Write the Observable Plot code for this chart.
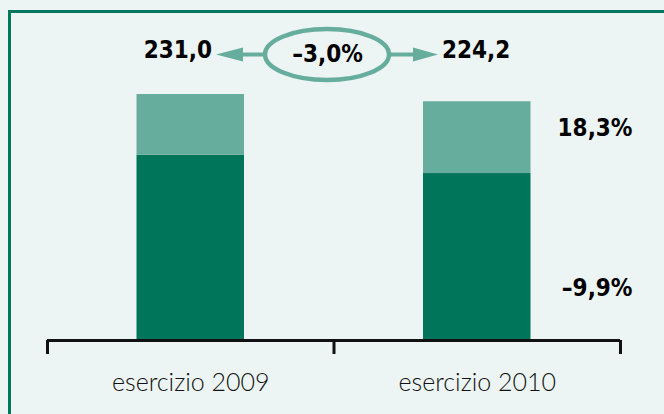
<!DOCTYPE html>
<html>
<head>
<meta charset="utf-8">
<script src="https://cdn.jsdelivr.net/npm/d3@7"></script>
<script src="https://cdn.jsdelivr.net/npm/@observablehq/plot@0.6"></script>
<style>
  html, body { margin: 0; padding: 0; background: #ecf5f3; overflow: hidden; }
  #wrap { position: relative; width: 664px; height: 414px; }
  #frame { position: absolute; left: 8px; top: 10px; width: 700px; height: 500px;
           border-top: 3px solid #00775c; border-left: 3px solid #00775c; pointer-events: none; }
</style>
</head>
<body>
<div id="wrap"><div id="frame"></div></div>
<script>
const categories = ["esercizio 2009", "esercizio 2010"];
const bottomValues = [174.0, 156.8];   // dark segment
const topValues = [57.0, 67.4];        // light segment
const totalLabels = ["231,0", "224,2"];
const changeLabel = "–3,0%";
const growthLabels = ["18,3%", "–9,9%"]; // light segment, dark segment (2010 vs 2009)

const dark = "#00755a";
const light = "#66ad9d";
const boldFont = "'DejaVu Sans Condensed', 'DejaVu Sans', sans-serif";

const rows = categories.map((c, i) => ({
  i, c, bottom: bottomValues[i], top: topValues[i], total: bottomValues[i] + topValues[i], label: totalLabels[i]
}));
const last = rows[rows.length - 1];

const boldText = { fontSize: 24, fontFamily: boldFont, fontWeight: "bold", fill: "#000", lineAnchor: "middle" };

const plot = Plot.plot({
  width: 664,
  height: 414,
  marginTop: 0,
  marginBottom: 74,
  marginLeft: 47,
  marginRight: 44,
  style: { background: "transparent", overflow: "visible" },
  x: { domain: [0, categories.length], axis: null },
  y: { domain: [0, 319.3], axis: null },
  marks: [
    Plot.rectY(rows, { x1: d => d.i, x2: d => d.i + 1, y1: 0, y2: "bottom", fill: dark, insetLeft: 89.5, insetRight: 89.5 }),
    Plot.rectY(rows, { x1: d => d.i, x2: d => d.i + 1, y1: "bottom", y2: "total", fill: light, insetLeft: 89.5, insetRight: 89.5 }),
    Plot.ruleY([0], { x1: 0, x2: categories.length, stroke: "#111", strokeWidth: 3 }),
    Plot.axisX(d3.range(categories.length + 1), { tickSize: 14, tickFormat: () => "", stroke: "#111", strokeWidth: 3 }),
    Plot.text(rows, { x: d => d.i + 0.5, frameAnchor: "bottom", lineAnchor: "middle", dy: 42, text: "c", fontSize: 25,
      fontFamily: "Lato, sans-serif", fontWeight: 300, fill: "#111" }),
    Plot.text([rows[0]], { ...boldText, x: 1, frameAnchor: "top", dy: 50, text: "label", textAnchor: "end", dx: -122 }),
    Plot.text([rows[1]], { ...boldText, x: 1, frameAnchor: "top", dy: 50, text: "label", textAnchor: "start", dx: 108 }),
    Plot.text([changeLabel], { ...boldText, x: 1, frameAnchor: "top", dy: 54, text: d => d, dx: -6.5 }),
    Plot.text([last], { ...boldText, x: categories.length, y: "total", dy: 27, dx: 12, text: () => growthLabels[0], textAnchor: "end" }),
    Plot.text([last], { ...boldText, x: categories.length, y: 0, dy: -52, dx: 12, text: () => growthLabels[1], textAnchor: "end" })
  ]
});

// ellipse + arrows annotation, positioned from the x scale
const X = plot.scale("x");
const cx = X.apply(1) - 6.5, cy = 54.5;
const svg = d3.select(plot);
const g = svg.append("g");
g.append("ellipse").attr("cx", cx).attr("cy", cy).attr("rx", 62).attr("ry", 25.5)
  .attr("fill", "none").attr("stroke", light).attr("stroke-width", 4.5);
// left arrow
g.append("line").attr("x1", cx - 64).attr("x2", cx - 86).attr("y1", cy).attr("y2", cy)
  .attr("stroke", light).attr("stroke-width", 4);
g.append("polygon").attr("points", `${cx - 111},${cy} ${cx - 84},${cy - 7} ${cx - 84},${cy + 7}`).attr("fill", light);
// right arrow
g.append("line").attr("x1", cx + 64).attr("x2", cx + 88).attr("y1", cy).attr("y2", cy)
  .attr("stroke", light).attr("stroke-width", 4);
g.append("polygon").attr("points", `${cx + 111},${cy} ${cx + 86},${cy - 7} ${cx + 86},${cy + 7}`).attr("fill", light);

document.getElementById("wrap").insertBefore(plot, document.getElementById("frame"));
plot.style.position = "absolute";
plot.style.left = "0px";
plot.style.top = "0px";
</script>
</body>
</html>
